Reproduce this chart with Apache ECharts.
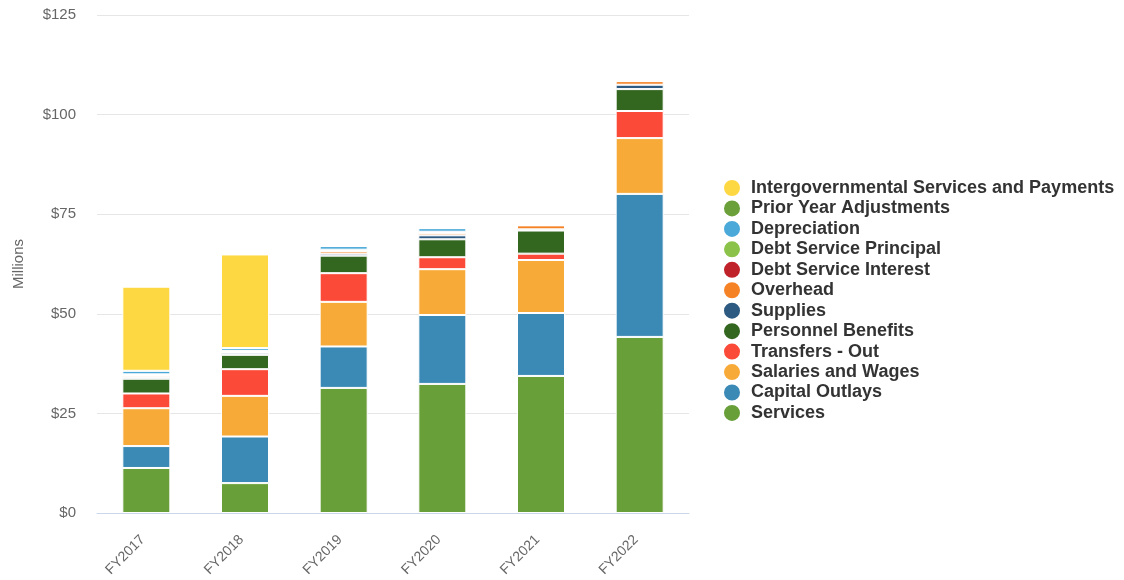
<!DOCTYPE html>
<html>
<head>
<meta charset="utf-8">
<script src="https://cdn.jsdelivr.net/npm/echarts@6/dist/echarts.min.js"></script>
<style>
  html, body { margin: 0; padding: 0; background: #fff; }
  #chart { width: 1124px; height: 580px; }
</style>
</head>
<body>
<div id="chart"></div>
<script>
// Fiscal years on the x axis
const years = ['FY2017', 'FY2018', 'FY2019', 'FY2020', 'FY2021', 'FY2022'];

// Expenditures by category, in millions of dollars (stacked bottom to top)
const services            = [11.3,  7.5, 31.4, 32.4, 34.4, 44.2];
const capitalOutlays      = [ 5.5, 11.7, 10.4, 17.3, 15.8, 35.9];
const salariesAndWages    = [ 9.5, 10.2, 11.2, 11.5, 13.3, 14.0];
const transfersOut        = [ 3.7,  6.7,  7.2,  3.0,  1.6,  6.8];
const personnelBenefits   = [ 3.7,  3.6,  4.4,  4.5,  5.8,  5.5];
const supplies            = [ 0.4,  0.5,  0.5,  1.0,  0.3,  1.1];
const overhead            = [ 0.4,  0.3,  0.6,  0.6,  1.0,  0.9];
const debtServiceInterest = [ 0.3,  0.2,  0.2,  0.3,  0.0,  0.0];
const debtServicePrincipal= [ 0.0,  0.0,  0.2,  0.0,  0.0,  0.0];
const depreciation        = [ 0.9,  0.7,  0.9,  0.9,  0.0,  0.0];
const priorYearAdjustments= [ 0.0,  0.0,  0.0,  0.0,  0.0,  0.0];
const intergovernmental   = [21.1, 23.5,  0.0,  0.0,  0.0,  0.0];

// Y axis range and step (millions)
const yMin = 0, yMax = 125, yStep = 25;

const seriesDefs = [
  { name: 'Services',                                  data: services,             color: '#689f38' },
  { name: 'Capital Outlays',                           data: capitalOutlays,       color: '#3b8ab5' },
  { name: 'Salaries and Wages',                        data: salariesAndWages,     color: '#f8aa38' },
  { name: 'Transfers - Out',                           data: transfersOut,         color: '#fb4a37' },
  { name: 'Personnel Benefits',                        data: personnelBenefits,    color: '#33661f' },
  { name: 'Supplies',                                  data: supplies,             color: '#2c5a80' },
  { name: 'Overhead',                                  data: overhead,             color: '#f58225' },
  { name: 'Debt Service Interest',                     data: debtServiceInterest,  color: '#c0222a' },
  { name: 'Debt Service Principal',                    data: debtServicePrincipal, color: '#8bc34a' },
  { name: 'Depreciation',                              data: depreciation,         color: '#4aa9d8' },
  { name: 'Prior Year Adjustments',                    data: priorYearAdjustments, color: '#6a9f3a' },
  { name: 'Intergovernmental Services and Payments',   data: intergovernmental,    color: '#fdd843' }
];

const fontStack = '"Liberation Sans", Arial, Helvetica, sans-serif';
const chart = echarts.init(document.getElementById('chart'), null, { renderer: 'canvas' });

chart.setOption({
  animation: false,
  textStyle: { fontFamily: fontStack },
  grid: { left: 97, right: 435, top: 15, bottom: 67, containLabel: false },
  legend: {
    orient: 'vertical',
    left: 717,
    top: 173,
    icon: 'circle',
    itemWidth: 18,
    itemHeight: 18,
    itemGap: 0.45,
    data: seriesDefs.map(s => s.name).reverse(),
    textStyle: {
      fontSize: 18,
      fontWeight: 'bold',
      color: '#333333',
      padding: [0, 0, 0, 5],
      fontFamily: fontStack
    }
  },
  xAxis: {
    type: 'category',
    data: years,
    axisLine: { lineStyle: { color: '#ccd6eb', width: 1 } },
    axisTick: { show: false },
    axisLabel: {
      rotate: 45,
      color: '#666666',
      fontSize: 14,
      margin: 21,
      padding: [0, 5, 0, 0]
    }
  },
  yAxis: {
    type: 'value',
    min: yMin,
    max: yMax,
    interval: yStep,
    name: 'Millions',
    nameLocation: 'middle',
    nameGap: 71,
    nameTextStyle: { color: '#666666', fontSize: 15 },
    axisLine: { show: false },
    axisTick: { show: false },
    splitLine: { lineStyle: { color: '#e6e6e6', width: 1 } },
    axisLabel: {
      color: '#666666',
      fontSize: 15,
      margin: 21,
      formatter: v => '$' + v
    }
  },
  series: seriesDefs.map(s => ({
    name: s.name,
    type: 'bar',
    stack: 'total',
    barWidth: 48,
    data: s.data,
    itemStyle: { color: s.color, borderColor: '#ffffff', borderWidth: 1 },
    emphasis: { disabled: true }
  }))
});
</script>
</body>
</html>
